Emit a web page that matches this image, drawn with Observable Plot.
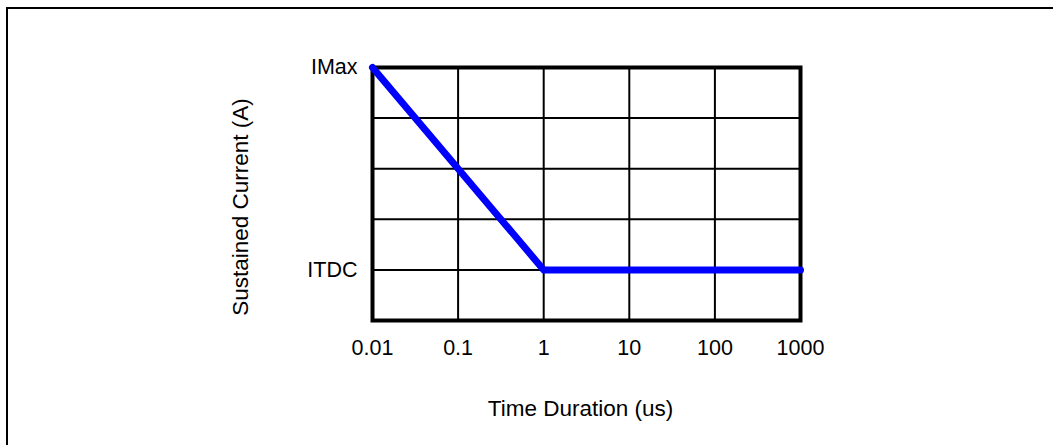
<!DOCTYPE html>
<html><head><meta charset="utf-8">
<script src="https://cdn.jsdelivr.net/npm/d3@7"></script>
<script src="https://cdn.jsdelivr.net/npm/@observablehq/plot@0.6"></script>
<style>
body{margin:0;background:#fff}
#wrap{position:relative;width:1053px;height:445px;overflow:hidden;background:#fff}
#border{position:absolute;left:6px;top:7px;right:-10px;bottom:-10px;border-top:2px solid #000;border-left:2px solid #000;pointer-events:none;z-index:2}
</style>
</head><body><div id="wrap"></div>
<script>
const timeTicks = [0.01, 0.1, 1, 10, 100, 1000];
const timeTickLabels = ["0.01", "0.1", "1", "10", "100", "1000"];
const currentLevels = [0, 1, 2, 3, 4, 5];
const currentTickValues = [5, 1];
const currentTickLabels = ["IMax", "ITDC"];
const curveTime = [0.01, 1, 1000];
const curveCurrent = [5, 1, 1];
const xTitle = "Time Duration (us)";
const yTitle = "Sustained Current (A)";

const xLab = new Map(timeTicks.map((t, i) => [t, timeTickLabels[i]]));
const yLab = new Map(currentTickValues.map((v, i) => [v, currentTickLabels[i]]));
const curve = curveTime.map((t, i) => ({t, c: curveCurrent[i]}));

const chart = Plot.plot({
  width: 1053, height: 445,
  marginLeft: 372, marginRight: 253, marginTop: 67, marginBottom: 125,
  style: {fontFamily: '"Liberation Sans", Arial, sans-serif', fontSize: "21.5px", color: "#000", background: "transparent"},
  x: {type: "log", domain: [0.01, 1000]},
  y: {domain: [0, 5]},
  marks: [
    Plot.ruleX(timeTicks, {stroke: "#000", strokeWidth: 2}),
    Plot.ruleY(currentLevels, {stroke: "#000", strokeWidth: 2}),
    Plot.frame({stroke: "#000", strokeWidth: 4}),
    Plot.line(curve, {x: "t", y: "c", stroke: "#0000ff", strokeWidth: 7, strokeLinecap: "round", strokeLinejoin: "round"}),
    Plot.axisX(timeTicks, {tickSize: 0, tickPadding: 19, tickFormat: d => xLab.get(d), label: null}),
    Plot.axisY(currentTickValues, {tickSize: 0, tickPadding: 15, tickFormat: d => yLab.get(d), label: null}),
    Plot.text([xTitle], {frameAnchor: "bottom", dx: -6, dy: 88, lineAnchor: "middle", textAnchor: "middle", fontSize: 22.5}),
    Plot.text([yTitle], {frameAnchor: "left", dx: -132, dy: 13, rotate: -90, lineAnchor: "middle", textAnchor: "middle", fontSize: 22.5})
  ]
});
const wrap = document.getElementById("wrap");
wrap.appendChild(chart);
const b = document.createElement("div");
b.id = "border";
wrap.appendChild(b);
</script>
</body></html>
